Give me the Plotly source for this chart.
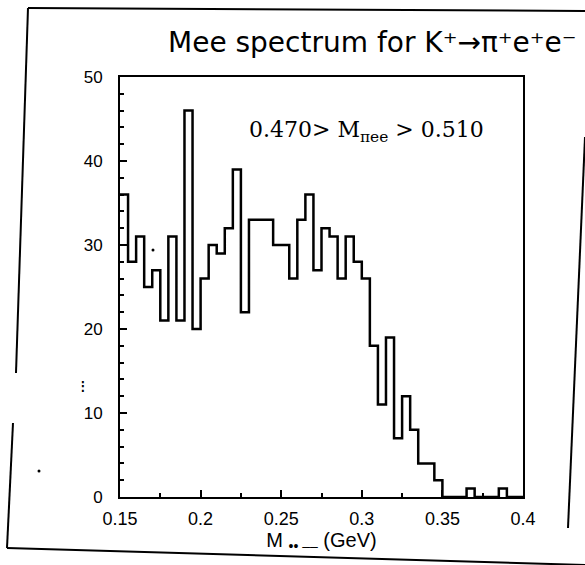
import numpy as np
import plotly.graph_objects as go

# Histogram of the e+e- invariant mass, 5 MeV bins from 0.15 to 0.40 GeV
bin_start = 0.15
bin_stop = 0.40
n_bins = 50
counts = [36, 28, 31, 25, 27, 21, 31, 21, 46, 20,
          26, 30, 29, 32, 39, 22, 33, 33, 33, 30,
          30, 26, 33, 36, 27, 32, 31, 26, 31, 28,
          26, 18, 11, 19, 7, 12, 8, 4, 4, 2,
          0, 0, 0, 1, 0, 0, 0, 1, 0, 0]

x_ticks = [0.15, 0.2, 0.25, 0.3, 0.35, 0.4]
x_tick_text = ["0.15", "0.2", "0.25", "0.3", "0.35", "0.4"]
y_ticks = [0, 10, 20, 30, 40, 50]
y_tick_text = ["0", "10", "20", "30", "40", "50"]

title_text = "Mee spectrum for K⁺→π⁺e⁺e⁻"
cut_text = "0.470> M<sub>πee</sub> > 0.510"
x_title = "M <sub>•• ––</sub> (GeV)"

W, H = 585, 565


def px(x):
    return x / W


def py(y):
    return 1 - y / H


edges = np.round(np.linspace(bin_start, bin_stop, n_bins + 1), 3)
step_y = counts + [counts[-1]]

fig = go.Figure()
fig.add_trace(go.Scatter(
    x=edges, y=step_y, mode="lines", line_shape="hv",
    line=dict(color="black", width=2.5), hoverinfo="skip", showlegend=False,
))

axis_common = dict(
    showgrid=False, zeroline=False, showline=True, linecolor="black",
    linewidth=2, mirror=True, ticks="inside", tickcolor="black",
    tickwidth=1.5, automargin=False,
)

fig.update_xaxes(
    **axis_common,
    range=[bin_start, bin_stop], domain=[px(120), px(523)],
    tickvals=x_ticks, ticktext=x_tick_text, ticklen=7,
    minor=dict(dtick=0.025, tick0=0.15, ticks="inside", ticklen=4,
               tickcolor="black", tickwidth=1.5),
    tickfont=dict(family="Liberation Sans", size=18, color="black"),
    ticklabelstandoff=4,
    title=dict(text=x_title, standoff=0,
               font=dict(family="Liberation Sans", size=20, color="black")),
)
fig.update_yaxes(
    **axis_common,
    range=[0, 50], domain=[py(497), py(77)],
    tickvals=y_ticks, ticktext=y_tick_text, ticklen=7,
    minor=dict(dtick=2, ticks="inside", ticklen=4,
               tickcolor="black", tickwidth=1.5),
    tickfont=dict(family="Liberation Sans", size=17, color="black"),
    ticklabelstandoff=12,
)

# handwritten heading and the selection cut
fig.add_annotation(
    text=title_text, x=px(372), y=py(43), xref="paper", yref="paper",
    xanchor="center", yanchor="middle", showarrow=False,
    font=dict(family="DejaVu Sans", size=28, color="black"),
)
fig.add_annotation(
    text=cut_text, x=px(366), y=py(131), xref="paper", yref="paper",
    xanchor="center", yanchor="middle", showarrow=False,
    font=dict(family="DejaVu Serif", size=22, color="black"),
)
fig.add_annotation(
    text="⁝", x=px(83), y=py(386), xref="paper", yref="paper",
    xanchor="center", yanchor="middle", showarrow=False,
    font=dict(family="DejaVu Sans", size=18, color="black"),
)

# hand-drawn frame around the page
frame = [
    (28, 8, 585, 11),
    (28, 8, 16, 373),
    (13, 423, 7, 548),
    (7, 548, 585, 565),
    (585, 137, 568, 528),
]
for x0, y0, x1, y1 in frame:
    fig.add_shape(type="line", xref="paper", yref="paper",
                  x0=px(x0), y0=py(y0), x1=px(x1), y1=py(y1),
                  line=dict(color="black", width=2))

for cx, cy in [(39, 471), (153, 250)]:
    fig.add_shape(type="circle", xref="paper", yref="paper",
                  x0=px(cx - 1.5), y0=py(cy - 1.5), x1=px(cx + 1.5), y1=py(cy + 1.5),
                  fillcolor="black", line=dict(width=0))

fig.update_layout(
    width=W, height=H,
    margin=dict(l=0, r=0, t=0, b=0, pad=0, autoexpand=False),
    paper_bgcolor="white", plot_bgcolor="white",
)

fig.write_html("out.html")
